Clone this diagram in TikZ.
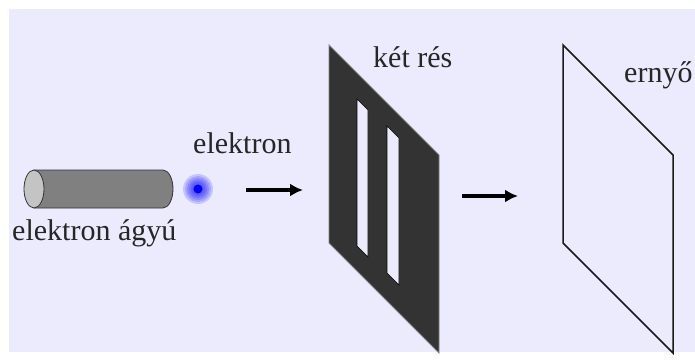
\documentclass[tikz,border=0pt]{standalone}
\usepackage{fontspec}
\setmainfont{LiberationSerif-Regular.ttf}[BoldFont=LiberationSerif-Bold.ttf]
\usetikzlibrary{arrows.meta}

\definecolor{bglav}{RGB}{235,235,253}
\definecolor{platedark}{RGB}{51,51,51}
\definecolor{gunbody}{RGB}{128,128,128}
\definecolor{guncap}{RGB}{196,196,196}

\begin{document}
\begin{tikzpicture}[x=1pt, y=1pt,
    lbl/.style={font=\fontsize{30}{36}\selectfont, text=black!85, inner sep=0pt, anchor=base west},
    arrow/.style={-{Latex[length=13pt, width=13pt]}, line width=3.5pt},
    plate/.style={fill=platedark, draw=black!50, line width=0.8pt},
    slit/.style={fill=bglav, draw=black, line width=0.6pt},
    screen/.style={draw=black!90, line width=1.5pt, line join=miter}
]

\useasboundingbox (0,0) rectangle (695,362);
\fill[bglav] (9,10) rectangle (695,353);

% Electron gun
\draw[fill=gunbody, draw=black!80, line width=0.8pt]
    (34,192) -- (163,192) arc[start angle=90, end angle=-90, x radius=10, y radius=19] -- (34,154) -- cycle;
\draw[fill=guncap, draw=black!80, line width=0.8pt] (34,173) ellipse[x radius=10, y radius=19];
\node[lbl] (gun) at (12,122) {elektron ágyú};

% Electron: a blue core with a fading halo
\coordinate (e) at (198,173);
\foreach \r in {15,13,...,5}
  \fill[blue, opacity=0.16] (e) circle[radius=\r];
\fill[blue] (e) circle[radius=4.5];
\node[lbl] (elec) at (193,209) {elektron};

% Double slit plate
\draw[plate] (329,317) -- (439,207) -- (439,9) -- (329,119) -- cycle;
\draw[slit] (357,263) -- (368,252) -- (368,105) -- (357,116) -- cycle;
\draw[slit] (387,236) -- (399,224) -- (399,77) -- (387,89) -- cycle;
\node[lbl] (slits) at (373,294) {két rés};

% Screen
\draw[screen] (563,317) -- (673,207) -- (673,9) -- (563,119) -- cycle;
\node[lbl] (scr) at (624,279) {ernyő};

% Arrows
\coordinate (a1s) at (246,172);
\coordinate (a1e) at (303,172);
\coordinate (a2s) at (462,166);
\coordinate (a2e) at (518,166);
\draw[arrow] (a1s) -- (a1e);
\draw[arrow] (a2s) -- (a2e);

\end{tikzpicture}
\end{document}
